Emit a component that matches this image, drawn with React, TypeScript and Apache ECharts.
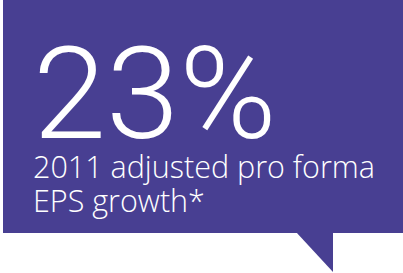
import React, { useEffect, useRef } from "react";
import * as echarts from "echarts";

const headline = ["23%"];
const captionLines = ["2011 adjusted pro forma", "EPS growth*"];
const bubbleColor = "#483F92";

export default function App() {
  const ref = useRef<HTMLDivElement>(null);
  useEffect(() => {
    if (!ref.current) return;
    const chart = echarts.init(ref.current, null, { renderer: "svg" });
    chart.setOption({
      animation: false,
      backgroundColor: "#ffffff",
      graphic: [
        { type: "rect", shape: { x: 3, y: 0, width: 400, height: 233 }, style: { fill: bubbleColor } },
        { type: "polygon", shape: { points: [[296, 232], [333, 232], [333, 272]] }, style: { fill: bubbleColor } },
        {
          type: "text",
          x: 33,
          y: 94,
          scaleX: 1.03,
          style: {
            text: headline[0],
            fill: "#ffffff",
            font: "300 128px Roboto",
            lineHeight: 90,
            verticalAlign: "middle",
            align: "left",
          },
        },
        {
          type: "text",
          x: 33,
          y: 183,
          style: {
            text: captionLines.join("\n"),
            fill: "#ffffff",
            font: "300 30.5px 'Open Sans'",
            lineHeight: 34,
            verticalAlign: "middle",
            align: "left",
          },
        },
      ],
    });
    return () => chart.dispose();
  }, []);
  return (
    <div
      ref={ref}
      style={{ position: "fixed", left: 0, top: 0, width: 403, height: 273 }}
    />
  );
}
